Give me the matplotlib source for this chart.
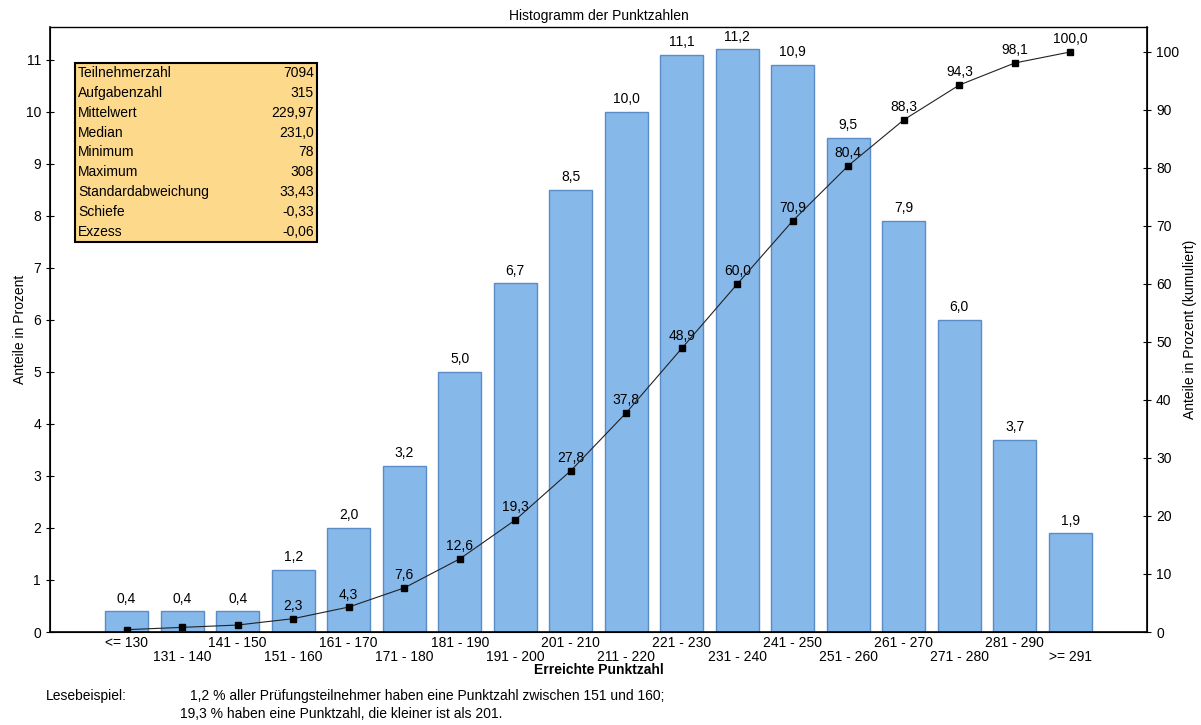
import matplotlib
matplotlib.use("Agg")
import matplotlib.pyplot as plt
from matplotlib.patches import Rectangle

plt.rcParams['font.family'] = ['Liberation Sans', 'DejaVu Sans']

# Daten
categories = ['<= 130', '131 - 140', '141 - 150', '151 - 160', '161 - 170', '171 - 180',
              '181 - 190', '191 - 200', '201 - 210', '211 - 220', '221 - 230', '231 - 240',
              '241 - 250', '251 - 260', '261 - 270', '271 - 280', '281 - 290', '>= 291']
percent = [0.4, 0.4, 0.4, 1.2, 2.0, 3.2, 5.0, 6.7, 8.5, 10.0, 11.1, 11.2, 10.9, 9.5, 7.9, 6.0, 3.7, 1.9]
cumulative = [0.4, 0.8, 1.2, 2.3, 4.3, 7.6, 12.6, 19.3, 27.8, 37.8, 48.9, 60.0, 70.9, 80.4, 88.3, 94.3, 98.1, 100.0]
cum_labeled_from = 3

stat_names = ['Teilnehmerzahl', 'Aufgabenzahl', 'Mittelwert', 'Median', 'Minimum', 'Maximum',
              'Standardabweichung', 'Schiefe', 'Exzess']
stat_values = ['7094', '315', '229,97', '231,0', '78', '308', '33,43', '-0,33', '-0,06']

def de(v):
    return f"{v:.1f}".replace('.', ',')

fig = plt.figure(figsize=(12.01, 7.25), dpi=100)
ax = fig.add_axes([50 / 1201, 93 / 725, 1097 / 1201, 605 / 725])
x = list(range(len(categories)))

ax.bar(x, percent, width=0.775, color='#86B8EA', edgecolor='#5A8CC8', linewidth=1.0, zorder=2)
for xi, v in zip(x, percent):
    ax.annotate(de(v), (xi, v), xytext=(0, 4), textcoords='offset points',
                ha='center', va='bottom', fontsize=10, zorder=5)

ax.set_xlim(-1.38, 18.38)
ax.set_ylim(0, 11.63)
ax.set_yticks(range(12))
ax.set_xticks(x)
ax.set_xticklabels([c if i % 2 == 0 else '\n' + c for i, c in enumerate(categories)], fontsize=10,
                   linespacing=1.0)
ax.tick_params(axis='x', length=0, pad=3)
ax.tick_params(axis='y', direction='inout', length=6, labelsize=10)
ax.set_ylabel('Anteile in Prozent', fontsize=10, labelpad=-1)
ax.set_xlabel('Erreichte Punktzahl', fontsize=10, fontweight='bold', labelpad=-1)
ax.set_title('Histogramm der Punktzahlen', fontsize=10, pad=5)
for s in ax.spines.values():
    s.set_linewidth(1.2)
ax.spines['top'].set_linewidth(1.0)
ax.spines['top'].set_color('#444444')

ax2 = ax.twinx()
ax2.set_ylim(0, 104.3)
ax2.set_yticks(range(0, 101, 10))
ax2.tick_params(axis='y', direction='inout', length=6, labelsize=10)
ax2.set_ylabel('Anteile in Prozent (kumuliert)', fontsize=10, labelpad=3)
ax2.plot(x, cumulative, color='#222222', linewidth=0.8, marker='s', markersize=4,
         markerfacecolor='black', markeredgecolor='black', zorder=4)
for xi, v in list(zip(x, cumulative))[cum_labeled_from:]:
    ax2.annotate(de(v), (xi, v), xytext=(0, 4), textcoords='offset points',
                 ha='center', va='bottom', fontsize=10)

# Statistik-Tabelle
tx0, ty0, tw, th = 75 / 1201, (725 - 242) / 725, 242 / 1201, 179 / 725
fig.patches.append(Rectangle((tx0, ty0), tw, th, transform=fig.transFigure,
                             facecolor='#FDD98C', edgecolor='black', linewidth=1.5, zorder=10))
row_h = th / len(stat_names)
for i, (n, v) in enumerate(zip(stat_names, stat_values)):
    yy = ty0 + th - (i + 0.5) * row_h
    fig.text(tx0 + 3 / 1201, yy, n, ha='left', va='center', fontsize=10, zorder=11)
    fig.text(tx0 + tw - 3 / 1201, yy, v, ha='right', va='center', fontsize=10, zorder=11)

fig.text(46 / 1201, 1 - 696 / 725, 'Lesebeispiel:', ha='left', va='center', fontsize=10)
fig.text(190 / 1201, 1 - 696 / 725,
         '1,2 % aller Prüfungsteilnehmer haben eine Punktzahl zwischen 151 und 160;',
         ha='left', va='center', fontsize=10)
fig.text(180 / 1201, 1 - 714 / 725, '19,3 % haben eine Punktzahl, die kleiner ist als 201.',
         ha='left', va='center', fontsize=10)

fig.savefig('out.png', dpi=100)
